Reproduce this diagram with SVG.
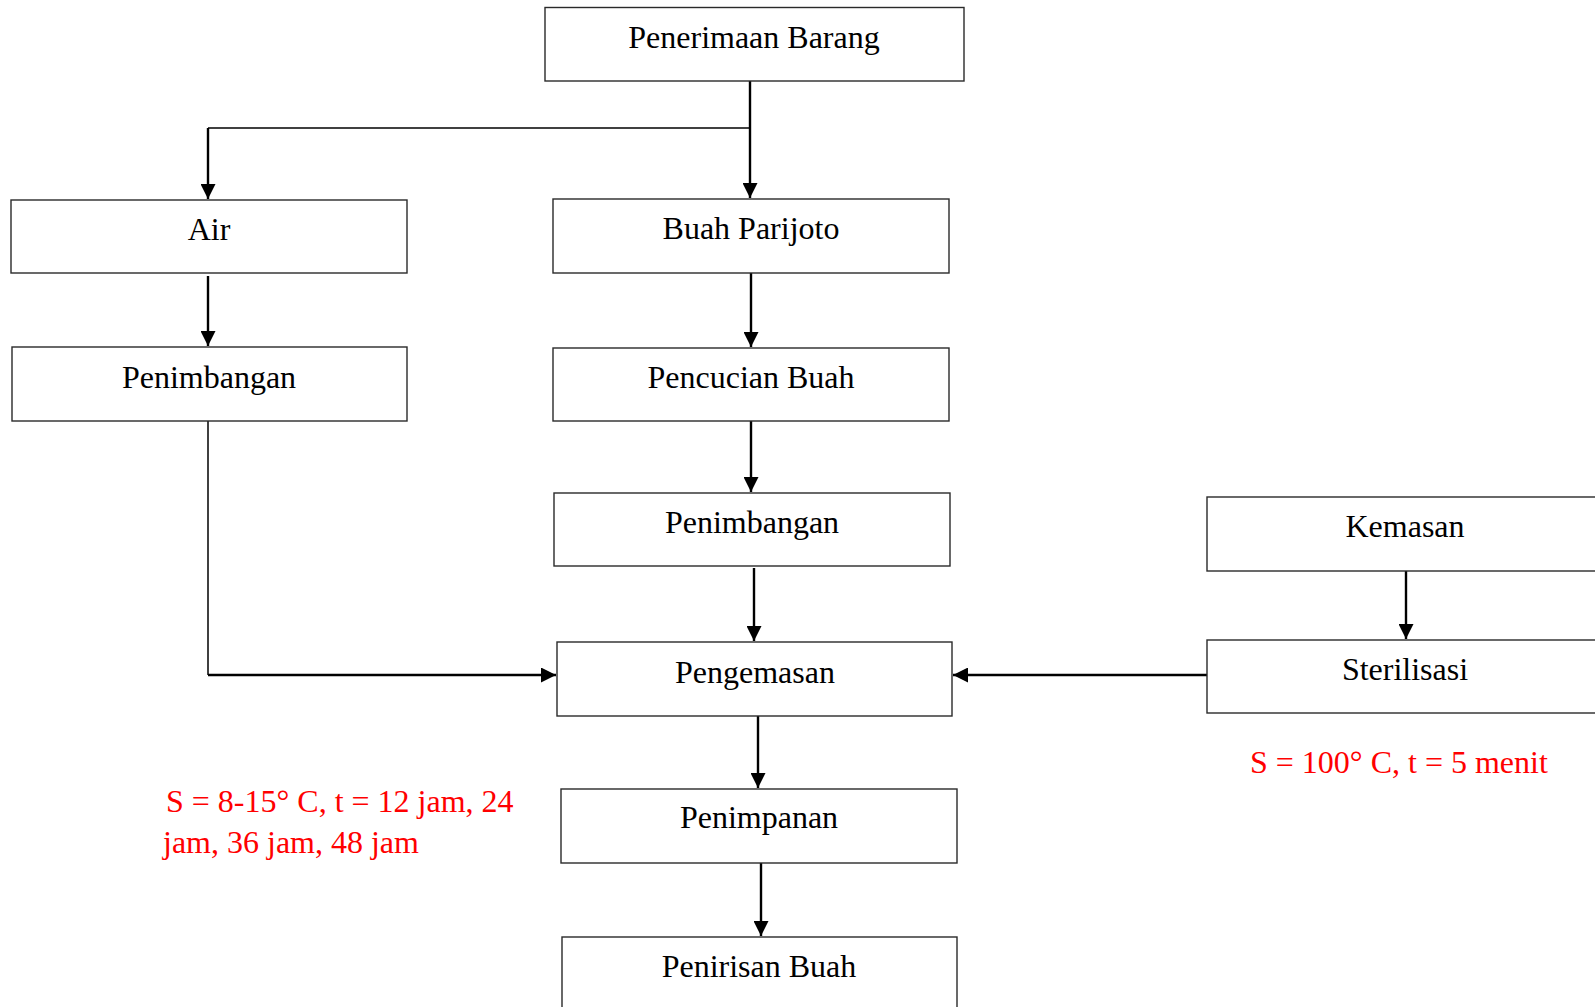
<svg xmlns="http://www.w3.org/2000/svg" width="1595" height="1007" viewBox="0 0 1595 1007">
  <style>
    .box { fill: #ffffff; stroke: #2a2a2a; stroke-width: 1.4; }
    .label { font-family: "Liberation Serif", "Times New Roman", serif; font-size: 32px; fill: #000000; text-anchor: middle; }
    .note { font-family: "Liberation Serif", "Times New Roman", serif; font-size: 32px; fill: #ff0000; }
    .link { fill: none; stroke: #000000; stroke-width: 2.4; }
    .thin { fill: none; stroke: #000000; stroke-width: 1.5; }
  </style>
  <defs>
    <marker id="arrow" markerUnits="userSpaceOnUse" markerWidth="15" markerHeight="15" refX="15" refY="7.5" orient="auto">
      <path d="M0,0 L15,7.5 L0,15 Z" fill="#000000"/>
    </marker>
  </defs>

  <rect width="1595" height="1007" fill="#ffffff"/>

  <!-- connectors -->
  <g id="connectors">
    <path class="link" d="M750,81 V198" marker-end="url(#arrow)"/>
    <path class="thin" d="M750,128 H208"/>
    <path class="link" d="M208,128 V199" marker-end="url(#arrow)"/>
    <path class="link" d="M208,276 V346" marker-end="url(#arrow)"/>
    <path class="link" d="M751,273 V347" marker-end="url(#arrow)"/>
    <path class="link" d="M751,421 V492" marker-end="url(#arrow)"/>
    <path class="link" d="M754,568 V641" marker-end="url(#arrow)"/>
    <path class="thin" d="M208,421 V675"/>
    <path class="link" d="M208,675 H556" marker-end="url(#arrow)"/>
    <path class="link" d="M1207,675 H953" marker-end="url(#arrow)"/>
    <path class="link" d="M1406,568 V639" marker-end="url(#arrow)"/>
    <path class="link" d="M758,716 V788" marker-end="url(#arrow)"/>
    <path class="link" d="M761,863 V936" marker-end="url(#arrow)"/>
  </g>

  <!-- nodes -->
  <g id="penerimaan-barang">
    <rect class="box" x="545" y="7.5" width="419" height="73.5"/>
    <text class="label" x="754" y="48">Penerimaan Barang</text>
  </g>
  <g id="air">
    <rect class="box" x="11" y="200" width="396" height="73"/>
    <text class="label" x="209" y="240">Air</text>
  </g>
  <g id="buah-parijoto">
    <rect class="box" x="553" y="199" width="396" height="74"/>
    <text class="label" x="751" y="239">Buah Parijoto</text>
  </g>
  <g id="penimbangan-air">
    <rect class="box" x="12" y="347" width="395" height="74"/>
    <text class="label" x="209" y="388">Penimbangan</text>
  </g>
  <g id="pencucian-buah">
    <rect class="box" x="553" y="348" width="396" height="73"/>
    <text class="label" x="751" y="388">Pencucian Buah</text>
  </g>
  <g id="penimbangan-buah">
    <rect class="box" x="554" y="493" width="396" height="73"/>
    <text class="label" x="752" y="533">Penimbangan</text>
  </g>
  <g id="kemasan">
    <rect class="box" x="1207" y="497" width="396" height="74"/>
    <text class="label" x="1405" y="537">Kemasan</text>
  </g>
  <g id="pengemasan">
    <rect class="box" x="557" y="642" width="395" height="74"/>
    <text class="label" x="755" y="683">Pengemasan</text>
  </g>
  <g id="sterilisasi">
    <rect class="box" x="1207" y="640" width="396" height="73"/>
    <text class="label" x="1405" y="680">Sterilisasi</text>
  </g>
  <g id="penimpanan">
    <rect class="box" x="561" y="789" width="396" height="74"/>
    <text class="label" x="759" y="828">Penimpanan</text>
  </g>
  <g id="penirisan-buah">
    <rect class="box" x="562" y="937" width="395" height="80"/>
    <text class="label" x="759" y="977">Penirisan Buah</text>
  </g>

  <!-- process conditions -->
  <g id="notes">
    <text class="note" x="1250" y="773">S = 100° C, t = 5 menit</text>
    <text class="note" x="166" y="812">S = 8-15° C, t = 12 jam, 24</text>
    <text class="note" x="163" y="853">jam, 36 jam, 48 jam</text>
  </g>
</svg>
